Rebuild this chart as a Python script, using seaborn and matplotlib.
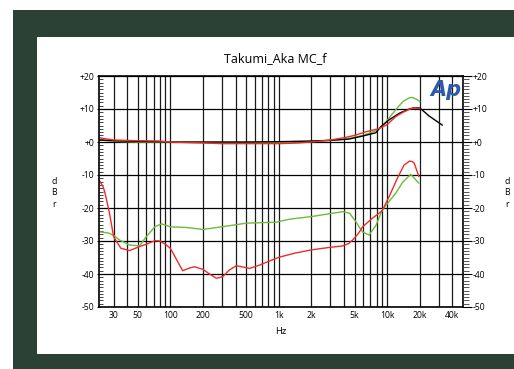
import numpy as np
import matplotlib
matplotlib.use("Agg")
import matplotlib.pyplot as plt
from matplotlib.patches import Rectangle
from matplotlib.ticker import LogLocator, MultipleLocator, NullFormatter
import seaborn as sns

sns.set_style("white")
plt.rcParams['font.family'] = ['Open Sans', 'DejaVu Sans']
plt.rcParams['text.color'] = 'black'
plt.rcParams['xtick.color'] = 'black'
plt.rcParams['ytick.color'] = 'black'

# 频响曲线 (dBr)
black_f = [22, 30, 50, 100, 200, 500, 1000, 2000, 3000, 4470, 5930, 7860, 8700,
           10400, 12900, 16000, 17800, 20000, 21200, 24300, 28000, 32300]
black_db = [0.6, 0.4, 0.2, 0.0, 0.0, 0.0, 0.1, 0.3, 0.5, 0.9, 1.8, 2.8, 4.6,
            6.7, 8.7, 10.0, 10.4, 10.3, 9.6, 7.9, 6.5, 5.1]

green_top_f = [22, 30, 50, 100, 200, 500, 1000, 2000, 3000, 4000, 6000, 8000,
               9000, 10000, 11000, 12500, 14000, 16000, 17000, 18500, 20000]
green_top_db = [0.7, 0.2, 0.0, -0.1, -0.2, -0.2, -0.2, 0.2, 0.5, 0.8, 2.0, 3.5,
                4.8, 6.5, 8.3, 10.5, 12.3, 13.4, 13.5, 13.0, 12.3]

red_top_f = [22, 25, 30, 50, 80, 100, 200, 300, 500, 1000, 1500, 2000, 3000,
             4000, 5000, 6400, 8000, 9000, 10000, 12000, 14000, 16000, 18000, 20000]
red_top_db = [1.3, 1.0, 0.6, 0.4, 0.3, 0.0, -0.3, -0.5, -0.5, -0.5, -0.3, 0.0,
              0.6, 1.3, 2.0, 3.1, 3.9, 4.5, 5.3, 7.7, 9.0, 9.9, 10.4, 10.1]

# 串扰曲线
red_low_f = [22, 24, 25, 27.5, 30, 35, 42, 52, 62, 72, 80, 90, 100, 115, 130,
             150, 167, 200, 230, 266, 305, 350, 406, 470, 540, 665, 800, 1010,
             1400, 1990, 3000, 3880, 4400, 4800, 5400, 5940, 7300, 8400, 9000,
             10400, 12400, 14300, 16000, 17000, 17800, 19600]
red_low_db = [-11.5, -13.5, -15.5, -21.6, -28.7, -32.2, -32.9, -31.7, -30.8,
              -29.9, -30.0, -31.0, -32.2, -35.8, -39.0, -38.2, -37.8, -38.6,
              -40.0, -41.3, -40.8, -38.8, -37.5, -37.9, -38.3, -37.3, -36.2,
              -34.9, -33.7, -32.7, -31.9, -31.5, -30.8, -29.7, -27.8, -25.7,
              -23.1, -21.6, -20.8, -16.6, -11.0, -7.0, -5.8, -5.9, -6.5, -10.5]

green_low_f = [22, 27, 30, 34, 42, 52, 60, 72, 83, 100, 141, 200, 329, 500, 950,
               1250, 2000, 3900, 4500, 5150, 5900, 6800, 7900, 9000, 12000,
               13800, 16500, 19600]
green_low_db = [-27.2, -27.6, -28.3, -29.7, -31.2, -31.5, -28.7, -25.7, -24.8,
                -25.7, -25.9, -26.5, -25.5, -24.6, -24.3, -23.4, -22.6, -21.1,
                -21.6, -24.2, -27.2, -28.2, -25.2, -20.6, -15.5, -12.3, -9.8,
                -12.5]

x_ticks = [30, 50, 100, 200, 500, 1000, 2000, 5000, 10000, 20000, 40000]
x_labels = ['30', '50', '100', '200', '500', '1k', '2k', '5k', '10k', '20k', '40k']
y_ticks = [-50, -40, -30, -20, -10, 0, 10, 20]
y_labels = ['-50', '-40', '-30', '-20', '-10', '+0', '+10', '+20']

RED = '#ee2b2b'
GREEN = '#6dbb3d'
FRAME = '#2b4136'

fig = plt.figure(figsize=(5.14, 3.69), dpi=100, facecolor='white')
fig.patches.append(Rectangle((13/514, 0), 1, 1 - 10/369, transform=fig.transFigure,
                             facecolor=FRAME, edgecolor='none', zorder=-2))
fig.patches.append(Rectangle((37/514, 1 - 354/369), 1, (354 - 37)/369,
                             transform=fig.transFigure, facecolor='white',
                             edgecolor='none', zorder=-1))

ax = fig.add_axes([99/514, 1 - 307/369, 364/514, 231/369])
ax.set_facecolor('white')
ax.set_xscale('log')
ax.set_xlim(22, 50000)
ax.set_ylim(-50, 20)

ax.xaxis.set_minor_locator(LogLocator(base=10, subs=np.arange(2, 10)))
ax.xaxis.set_minor_formatter(NullFormatter())
ax.set_xticks(x_ticks)
ax.set_xticklabels(x_labels)
ax.set_yticks(y_ticks)
ax.set_yticklabels(y_labels)
ax.yaxis.set_minor_locator(MultipleLocator(1))

ax.grid(which='both', axis='x', color='#1a1a1a', lw=0.9)
ax.grid(which='major', axis='y', color='black', lw=0.9)
ax.set_axisbelow(True)

for f, d, c in [(green_low_f, green_low_db, GREEN), (red_low_f, red_low_db, RED),
                (green_top_f, green_top_db, GREEN), (black_f, black_db, 'black'),
                (red_top_f, red_top_db, RED)]:
    sns.lineplot(x=f, y=d, color=c, lw=1.0, ax=ax, sort=False, estimator=None)

ax.tick_params(axis='x', which='both', length=0, pad=3, labelsize=6.2)
ax.tick_params(axis='y', which='major', direction='out', length=1.5, width=0.8,
               pad=2, labelsize=6.2)
ax.tick_params(axis='y', which='minor', direction='in', length=3, width=0.7,
               left=True, color='#444444')
for s in ax.spines.values():
    s.set_color('black')
    s.set_linewidth(1.2)

ax2 = ax.twinx()
ax2.set_ylim(-50, 20)
ax2.set_yticks(y_ticks)
ax2.set_yticklabels(y_labels)
ax2.yaxis.set_minor_locator(MultipleLocator(1))
ax2.tick_params(axis='y', which='major', direction='out', length=6.5, width=0.8,
                pad=0.5, labelsize=6.2)
ax2.tick_params(axis='y', which='minor', direction='out', length=4, width=0.7,
                color='#555555')
ax2.grid(False)
for s in ax2.spines.values():
    s.set_visible(False)

fig.text(275/514, 1 - 59/369, 'Takumi_Aka MC_f', ha='center', va='center',
         fontsize=9)
fig.text(281/514, 1 - 331/369, 'Hz', ha='center', va='center', fontsize=6.8)
for xp in (54, 507):
    fig.text(xp/514, 1 - 193/369, 'd\nB\nr', ha='center', va='center',
             fontsize=6.3, linespacing=1.4)
fig.text(446/514, 1 - 90/369, 'Ap', ha='center', va='center', fontsize=15,
         fontweight='heavy', fontstyle='italic', color='#2e5aa8',
         family='DejaVu Sans')

fig.savefig('out.png', dpi=100, facecolor='white')
